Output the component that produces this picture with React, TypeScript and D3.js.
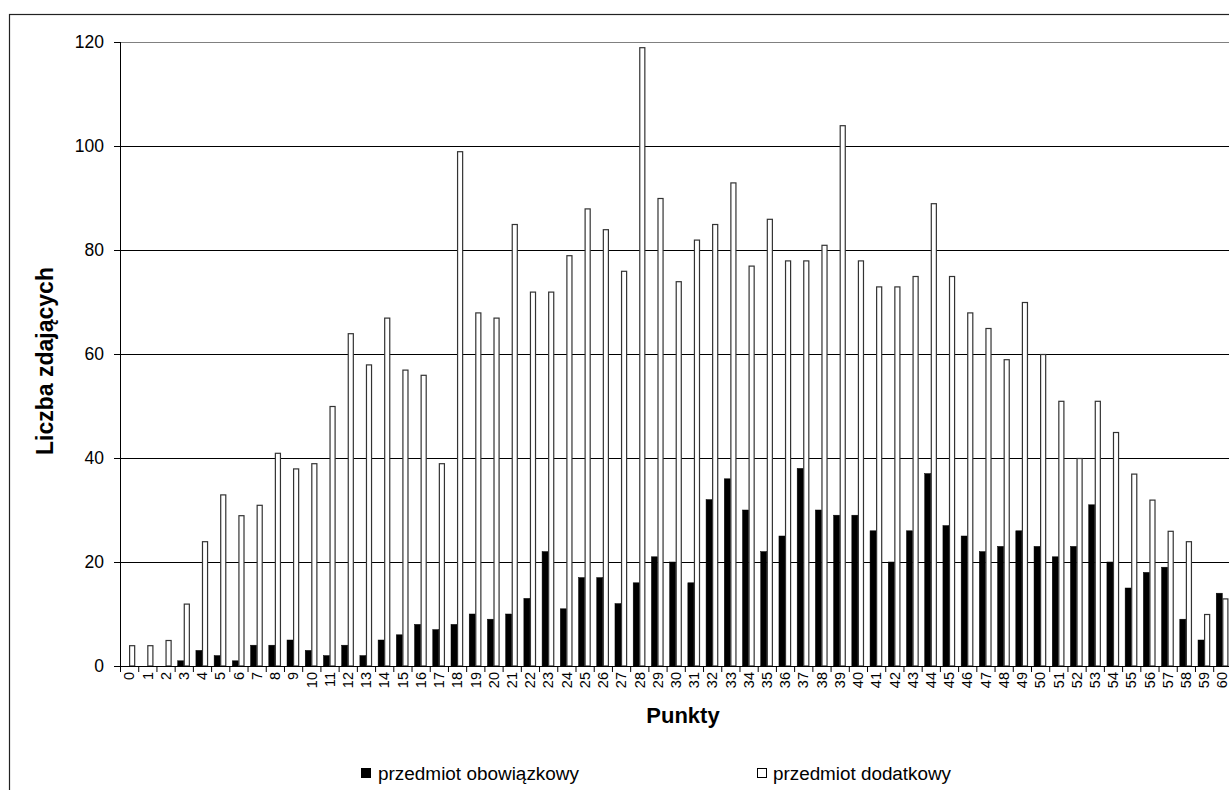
import React from "react";
import * as d3 from "d3";

const categories: string[] = Array.from({ length: 61 }, (_, i) => String(i));
const seriesNames = ["przedmiot obowiązkowy", "przedmiot dodatkowy"];
const obowiazkowy = [0, 0, 0, 1, 3, 2, 1, 4, 4, 5, 3, 2, 4, 2, 5, 6, 8, 7, 8, 10, 9, 10, 13, 22, 11, 17, 17, 12, 16, 21, 20, 16, 32, 36, 30, 22, 25, 38, 30, 29, 29, 26, 20, 26, 37, 27, 25, 22, 23, 26, 23, 21, 23, 31, 20, 15, 18, 19, 9, 5, 14];
const dodatkowy = [4, 4, 5, 12, 24, 33, 29, 31, 41, 38, 39, 50, 64, 58, 67, 57, 56, 39, 99, 68, 67, 85, 72, 72, 79, 88, 84, 76, 119, 90, 74, 82, 85, 93, 77, 86, 78, 78, 81, 104, 78, 73, 73, 75, 89, 75, 68, 65, 59, 70, 60, 51, 40, 51, 45, 37, 32, 26, 24, 10, 13];
const yTicks = [0, 20, 40, 60, 80, 100, 120];

const FONT = "'Liberation Sans', Arial, Helvetica, sans-serif";

export default function App() {
  const W = 1229, H = 790;
  const x0 = 120, band = 18.22;
  const x = d3.scaleBand<string>().domain(categories).range([x0, x0 + band * categories.length]).padding(0);
  const inner = d3.scaleBand<string>().domain(seriesNames).range([0, x.bandwidth()]).paddingInner(0).paddingOuter(0.5);
  const y = d3.scaleLinear().domain([0, 120]).range([666, 42]);
  const xEnd = x0 + band * categories.length;

  return (
    <svg width={W} height={H} style={{ position: "absolute", left: 0, top: 0, display: "block", background: "#fff" }} fontFamily={FONT}>
      <rect x={9.5} y={14.5} width={1400} height={1000} fill="#fff" stroke="#222" strokeWidth={1.2} />
      {yTicks.filter((t) => t > 0).map((t) => (
        <line key={t} x1={x0} x2={xEnd} y1={y(t) + 0.5} y2={y(t) + 0.5} stroke={t === 120 ? "#808080" : "#000"} strokeWidth={1} />
      ))}
      {categories.map((c, i) => (
        <g key={c}>
          <rect x={x(c)! + inner(seriesNames[0])!} y={y(obowiazkowy[i])} width={inner.bandwidth()} height={y(0) - y(obowiazkowy[i])} fill="#000" stroke="#000" strokeWidth={0.5} />
          <rect x={x(c)! + inner(seriesNames[1])! + 0.5} y={y(dodatkowy[i]) + 0.5} width={inner.bandwidth() - 1} height={y(0) - y(dodatkowy[i]) - 0.5} fill="#fff" stroke="#333" strokeWidth={1.2} />
        </g>
      ))}
      <line x1={x0 + 0.5} x2={x0 + 0.5} y1={y(120)} y2={y(0)} stroke="#000" />
      {yTicks.map((t) => (
        <g key={t}>
          <line x1={x0 - 6} x2={x0} y1={y(t) + 0.5} y2={y(t) + 0.5} stroke="#000" />
          <text x={104} y={y(t) + 6} fontSize={17.5} textAnchor="end" fill="#000">{t}</text>
        </g>
      ))}
      <line x1={x0} x2={xEnd} y1={y(0) + 0.5} y2={y(0) + 0.5} stroke="#000" />
      {categories.map((c) => (
        <line key={"t" + c} x1={x(c)! + 0.5} x2={x(c)! + 0.5} y1={y(0)} y2={y(0) + 6} stroke="#000" />
      ))}
      {categories.map((c) => {
        const cx = Math.min(x(c)! + x.bandwidth() / 2, 1222);
        return (
          <text key={"l" + c} transform={`translate(${cx},672) rotate(-90)`} dy="0.36em" fontSize={14.5} textAnchor="end" fill="#000">{c}</text>
        );
      })}
      <text transform={`translate(53,361) rotate(-90)`} fontSize={23} fontWeight="bold" textAnchor="middle" fill="#000">Liczba zdających</text>
      <text x={683} y={723} fontSize={22} fontWeight="bold" textAnchor="middle" fill="#000">Punkty</text>
      <rect x={361.5} y={768.5} width={9} height={9} fill="#000" stroke="#000" />
      <text x={378} y={780} fontSize={18} fill="#000" textLength={201} lengthAdjust="spacingAndGlyphs">{seriesNames[0]}</text>
      <rect x={757.5} y={768.5} width={9} height={9} fill="#fff" stroke="#000" />
      <text x={773} y={780} fontSize={18} fill="#000" textLength={178} lengthAdjust="spacingAndGlyphs">{seriesNames[1]}</text>
    </svg>
  );
}
